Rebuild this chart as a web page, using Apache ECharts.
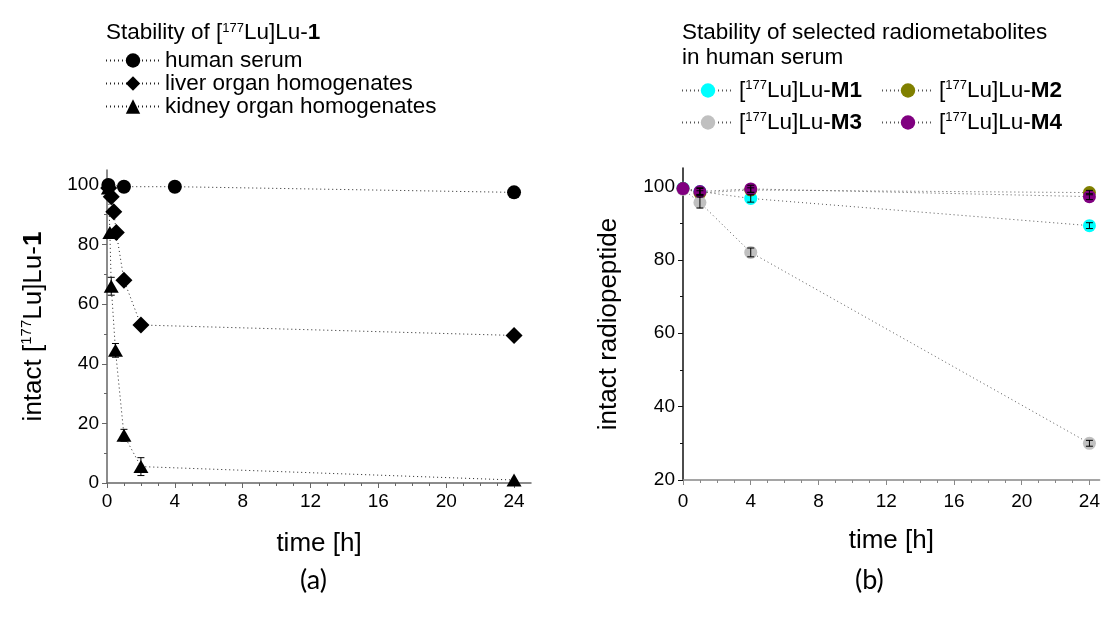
<!DOCTYPE html>
<html>
<head>
<meta charset="utf-8">
<script src="https://cdn.jsdelivr.net/npm/echarts@6/dist/echarts.min.js"></script>
<style>
html, body { margin: 0; padding: 0; background: #fff; }
#chart { width: 1103px; height: 621px; }
</style>
</head>
<body>
<div id="chart"></div>
<script>
// panel (a): stability of [177Lu]Lu-1
var serumTime = [0.08, 1, 4, 24];
var serumVal = [100, 99.4, 99.4, 97.5];
var liverTime = [0.1, 0.25, 0.4, 0.55, 1, 2, 24];
var liverVal = [99, 96, 91, 84, 68, 53, 49.5];
var kidneyTime = [0.08, 0.17, 0.25, 0.5, 1, 2, 24];
var kidneyVal = [99, 84, 66, 44.5, 16, 5.5, 1];
var kidneyErr = [0, 0, 3, 2.3, 2, 3, 0];

// panel (b): selected radiometabolites in human serum
var metTime = [0, 1, 4, 24];
var m1Val = [99.5, 98.6, 96.7, 89.3];
var m2Val = [99.4, 98.2, 99.0, 98.3];
var m3Val = [99.2, 95.6, 82, 30];
var m4Val = [99.4, 98.6, 99.3, 97.2];
var m1Err = [0, 0.8, 1, 0.8];
var m2Err = [0, 0.6, 0.6, 0.6];
var m3Err = [0, 1.5, 1.2, 0.8];
var m4Err = [0, 1, 1, 0.8];

// tick labels
var xMajor = [0, 4, 8, 12, 16, 20, 24];
var yMajorA = [0, 20, 40, 60, 80, 100];
var yMajorB = [20, 40, 60, 80, 100];

var FONT = '"Liberation Sans", Arial, sans-serif';

function zip(t, v) {
    return t.map(function (x, i) { return [x, v[i]]; });
}
function errData(t, v, e) {
    var out = [];
    t.forEach(function (x, i) {
        if (e[i] > 0) out.push([x, v[i] - e[i], v[i] + e[i]]);
    });
    return out;
}
function minorOf(major, step) {
    var out = [];
    for (var i = 0; i < major.length - 1; i++) {
        for (var v = major[i] + step; v < major[i + 1] - 1e-9; v += step) out.push(v);
    }
    return out;
}

var rich = {
    n: { fontSize: 22.5, fontFamily: FONT, color: '#000', fontWeight: 'normal', lineHeight: 22.5 },
    s: { fontSize: 13, fontFamily: FONT, color: '#000', fontWeight: 'normal', verticalAlign: 'top', lineHeight: 12 },
    b: { fontSize: 22.5, fontFamily: FONT, color: '#000', fontWeight: 'bold', lineHeight: 22.5 }
};
var richName = {
    n: { fontSize: 26, fontFamily: FONT, color: '#000', lineHeight: 30 },
    s: { fontSize: 15, fontFamily: FONT, color: '#000', verticalAlign: 'top', lineHeight: 15 },
    b: { fontSize: 26, fontFamily: FONT, color: '#000', fontWeight: 'bold', lineHeight: 30 }
};

function luName(name) {
    if (name.indexOf('M') === 0) return '{n|[}{s|177}{n|Lu]Lu-}{b|' + name + '}';
    return '{n|' + name + '}';
}

function errorSeries(xi, data) {
    return {
        type: 'custom',
        xAxisIndex: xi, yAxisIndex: xi,
        z: 5,
        silent: true,
        data: data,
        renderItem: function (params, api) {
            var lo = api.coord([api.value(0), api.value(1)]);
            var hi = api.coord([api.value(0), api.value(2)]);
            var w = 3.5;
            var st = { stroke: '#000', lineWidth: 1 };
            return {
                type: 'group',
                children: [
                    { type: 'line', shape: { x1: lo[0], y1: lo[1], x2: hi[0], y2: hi[1] }, style: st },
                    { type: 'line', shape: { x1: lo[0] - w, y1: lo[1], x2: lo[0] + w, y2: lo[1] }, style: st },
                    { type: 'line', shape: { x1: hi[0] - w, y1: hi[1], x2: hi[0] + w, y2: hi[1] }, style: st }
                ]
            };
        }
    };
}

function lineA(name, t, v, symbol, size) {
    return {
        name: name, type: 'line', xAxisIndex: 0, yAxisIndex: 0,
        data: zip(t, v), symbol: symbol, symbolSize: size,
        itemStyle: { color: '#000' },
        lineStyle: { color: '#222', width: 1, type: [1, 3] },
        z: 3
    };
}
function lineB(name, v, color) {
    return {
        name: name, type: 'line', xAxisIndex: 2, yAxisIndex: 2,
        data: zip(metTime, v), symbol: 'circle', symbolSize: 13,
        itemStyle: { color: color },
        lineStyle: { color: '#555', width: 1, type: [1, 3] },
        z: 3
    };
}

function mainX(grid, max, color, margin) {
    return {
        type: 'value', gridIndex: grid, position: 'bottom', min: 0, max: max, interval: 4,
        axisLine: { lineStyle: { color: color, width: 1.5 } },
        axisTick: { length: 5, lineStyle: { color: color }, customValues: xMajor },
        axisLabel: { color: '#000', fontSize: 19, fontFamily: FONT, margin: margin, customValues: xMajor },
        splitLine: { show: false },
        name: 'time [h]', nameLocation: 'middle', nameGap: 48,
        nameTextStyle: { fontSize: 26, fontFamily: FONT, color: '#000' }
    };
}
function minorX(grid, max, color) {
    return {
        type: 'value', gridIndex: grid, position: 'bottom', min: 0, max: max,
        axisLine: { show: false },
        axisTick: { length: 3, lineStyle: { color: color }, customValues: minorOf(xMajor, 1) },
        axisLabel: { show: false },
        splitLine: { show: false }
    };
}
function mainY(grid, min, major, color, name, gap) {
    return {
        type: 'value', gridIndex: grid, position: 'left', min: min, max: 105, interval: 20,
        axisLine: { show: true, lineStyle: { color: color, width: 1.5 } },
        axisTick: { show: true, length: 5, lineStyle: { color: color }, customValues: major },
        axisLabel: { color: '#000', fontSize: 19, fontFamily: FONT, margin: 8, customValues: major },
        splitLine: { show: false },
        name: name, nameLocation: 'middle', nameGap: gap, nameRotate: 90,
        nameTextStyle: { rich: richName, fontSize: 26, fontFamily: FONT, color: '#000' }
    };
}
function minorY(grid, min, major, color) {
    return {
        type: 'value', gridIndex: grid, position: 'left', min: min, max: 105,
        axisLine: { show: false },
        axisTick: { show: true, length: 3, lineStyle: { color: color }, customValues: minorOf(major, 10) },
        axisLabel: { show: false },
        splitLine: { show: false }
    };
}

function legendAt(names, left, top, width) {
    return {
        data: names, left: left, top: top, orient: 'vertical', padding: 0,
        itemWidth: width, itemHeight: 18, itemGap: 0,
        selectedMode: false,
        formatter: luName,
        textStyle: { rich: rich, fontSize: 22.5, fontFamily: FONT, color: '#000' }
    };
}

var chart = echarts.init(document.getElementById('chart'));
chart.setOption({
    animation: false,
    backgroundColor: '#fff',
    title: [
        {
            text: '{n|Stability of [}{s|177}{n|Lu]Lu-}{b|1}',
            left: 106, top: 22, padding: 0,
            textStyle: { rich: rich, fontWeight: 'normal' }
        },
        {
            text: '{n|Stability of selected radiometabolites}\n{n|in human serum}',
            left: 682, top: 20, padding: 0,
            textStyle: { fontWeight: 'normal', rich: { n: { fontSize: 22.5, fontFamily: FONT, color: '#000', fontWeight: 'normal', lineHeight: 25 } } }
        }
    ],
    legend: [
        legendAt(['human serum', 'liver organ homogenates', 'kidney organ homogenates'], 105, 49, 54),
        legendAt(['M1'], 681, 79, 52),
        legendAt(['M3'], 681, 111, 52),
        legendAt(['M2'], 881, 79, 52),
        legendAt(['M4'], 881, 111, 52)
    ],
    grid: [
        { left: 107, top: 170, width: 424, height: 313 },
        { left: 683, top: 168, width: 420, height: 312 }
    ],
    xAxis: [
        mainX(0, 25, '#666', 9),
        minorX(0, 25, '#666'),
        mainX(1, 24.6, '#888', 12),
        minorX(1, 24.6, '#888')
    ],
    yAxis: [
        mainY(0, 0, yMajorA, '#666', '{n|intact [}{s|177}{n|Lu]Lu-}{b|1}', 58),
        minorY(0, 0, yMajorA, '#666'),
        mainY(1, 20, yMajorB, '#111', '{n|intact radiopeptide}', 59),
        minorY(1, 20, yMajorB, '#111')
    ],
    graphic: [
        { type: 'text', left: 300, top: 567, style: { text: '(a)', fontSize: 27, fontFamily: 'Lato, sans-serif', fill: '#000' } },
        { type: 'text', left: 855, top: 567, style: { text: '(b)', fontSize: 27, fontFamily: 'Lato, sans-serif', fill: '#000' } }
    ],
    series: [
        lineA('human serum', serumTime, serumVal, 'circle', 14),
        lineA('liver organ homogenates', liverTime, liverVal, 'diamond', 17),
        lineA('kidney organ homogenates', kidneyTime, kidneyVal, 'triangle', [15, 13]),
        errorSeries(0, errData(kidneyTime, kidneyVal, kidneyErr)),
        lineB('M1', m1Val, '#00ffff'),
        lineB('M2', m2Val, '#808000'),
        lineB('M3', m3Val, '#c0c0c0'),
        lineB('M4', m4Val, '#800080'),
        errorSeries(2, errData(metTime, m1Val, m1Err)),
        errorSeries(2, errData(metTime, m2Val, m2Err)),
        errorSeries(2, errData(metTime, m3Val, m3Err)),
        errorSeries(2, errData(metTime, m4Val, m4Err))
    ]
});
</script>
</body>
</html>
